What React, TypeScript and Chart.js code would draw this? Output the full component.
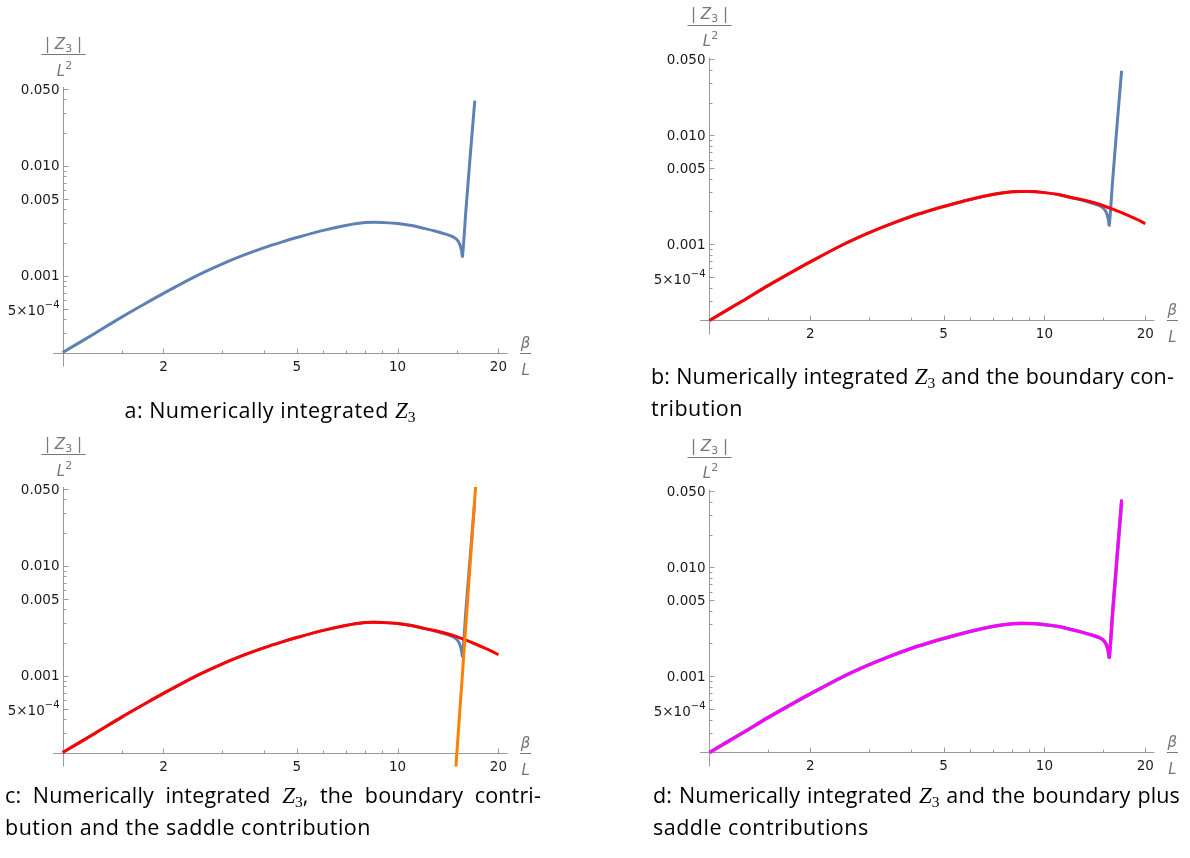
import React, { useEffect, useRef } from "react";
import { Chart, registerables } from "chart.js";

Chart.register(...registerables);

const PAGE_W = 1190;
const PAGE_H = 858;

// ---- data (beta/L, |Z3|/L^2) ----
const X_NUMERIC = [1.0, 1.25, 1.5, 1.75, 2.0, 2.5, 3.0, 3.5, 4.0, 4.5, 5.0, 6.0, 7.0, 8.0, 9.0, 10.0, 11.0, 12.0, 13.0, 14.0, 14.6, 15.0, 15.3, 15.5, 15.62, 16.0, 16.5, 17.0];
const Y_NUMERIC = [2.0e-4, 3.0e-4, 4.2e-4, 5.5e-4, 6.9e-4, 9.9e-4, 1.28e-3, 1.55e-3, 1.8e-3, 2.02e-3, 2.22e-3, 2.58e-3, 2.86e-3, 3.04e-3, 3.05e-3, 2.98e-3, 2.86e-3, 2.69e-3, 2.53e-3, 2.37e-3, 2.26e-3, 2.14e-3, 1.96e-3, 1.72e-3, 1.5e-3, 4.0e-3, 1.3e-2, 3.9e-2];

const X_BOUNDARY = [1.0, 1.25, 1.5, 1.75, 2.0, 2.5, 3.0, 3.5, 4.0, 4.5, 5.0, 6.0, 7.0, 8.0, 9.0, 10.0, 11.0, 12.0, 13.0, 14.0, 15.0, 16.0, 17.0, 18.0, 19.0, 20.0];
const Y_BOUNDARY = [2.0e-4, 3.0e-4, 4.2e-4, 5.5e-4, 6.9e-4, 9.9e-4, 1.28e-3, 1.55e-3, 1.8e-3, 2.02e-3, 2.22e-3, 2.58e-3, 2.86e-3, 3.04e-3, 3.05e-3, 2.98e-3, 2.86e-3, 2.69e-3, 2.56e-3, 2.42e-3, 2.26e-3, 2.1e-3, 1.95e-3, 1.81e-3, 1.68e-3, 1.55e-3];

const X_SADDLE = [14.85, 17.1];
const Y_SADDLE = [1.18e-4, 5.3e-2];

const X_SUM = [1.0, 1.25, 1.5, 1.75, 2.0, 2.5, 3.0, 3.5, 4.0, 4.5, 5.0, 6.0, 7.0, 8.0, 9.0, 10.0, 11.0, 12.0, 13.0, 14.0, 14.6, 15.0, 15.3, 15.5, 15.62, 16.0, 16.5, 17.0];
const Y_SUM = [2.0e-4, 3.0e-4, 4.2e-4, 5.5e-4, 6.9e-4, 9.9e-4, 1.28e-3, 1.55e-3, 1.8e-3, 2.02e-3, 2.22e-3, 2.58e-3, 2.86e-3, 3.04e-3, 3.05e-3, 2.98e-3, 2.86e-3, 2.69e-3, 2.53e-3, 2.37e-3, 2.26e-3, 2.14e-3, 1.96e-3, 1.72e-3, 1.5e-3, 4.0e-3, 1.3e-2, 4.2e-2];

// ---- axes / ticks ----
const X_RANGE = [0.937, 21.3];
const Y_RANGE = [1.49e-4, 0.052];
const X_ORIGIN = 1;
const Y_ORIGIN = 2e-4;
const X_MAJOR = [2, 5, 10, 20];
const X_MAJOR_LABELS = ["2", "5", "10", "20"];
const X_MINOR = [1.5, 3, 4, 6, 7, 8, 9, 15];
const Y_MAJOR = [0.0005, 0.001, 0.005, 0.01, 0.05];
const Y_MAJOR_LABELS = ["5×10^−4", "0.001", "0.005", "0.010", "0.050"];
const Y_MINOR = [3e-4, 4e-4, 6e-4, 7e-4, 8e-4, 9e-4, 0.002, 0.003, 0.004, 0.006, 0.007, 0.008, 0.009, 0.02, 0.03, 0.04];

const BLUE = "#5E81B5";
const RED = "#FF0000";
const ORANGE = "#FF8000";
const MAGENTA = "#FF00FF";
const AXIS_COLOR = "#9a9a9a";
const LABEL_COLOR = "#777777";
const TICK_TEXT = "#1a1a1a";
const TICK_FONT = '13.5px "DejaVu Sans", sans-serif';

type Series = { xs: number[]; ys: number[]; color: string; width: number; order: number };
type Panel = { key: string; left: number; top: number; right: number; bottom: number; series: Series[] };

const PANELS: Panel[] = [
  {
    key: "a", left: 53.2, top: 86.9, right: 507.6, bottom: 366.6,
    series: [{ xs: X_NUMERIC, ys: Y_NUMERIC, color: BLUE, width: 3, order: 0 }],
  },
  {
    key: "b", left: 700, top: 57.3, right: 1154.4, bottom: 334.4,
    series: [
      { xs: X_BOUNDARY, ys: Y_BOUNDARY, color: RED, width: 3, order: 0 },
      { xs: X_NUMERIC, ys: Y_NUMERIC, color: BLUE, width: 3, order: 1 },
    ],
  },
  {
    key: "c", left: 53.2, top: 486.9, right: 507.6, bottom: 766.6,
    series: [
      { xs: X_SADDLE, ys: Y_SADDLE, color: ORANGE, width: 3, order: 0 },
      { xs: X_BOUNDARY, ys: Y_BOUNDARY, color: RED, width: 3, order: 1 },
      { xs: X_NUMERIC, ys: Y_NUMERIC, color: BLUE, width: 3, order: 2 },
    ],
  },
  {
    key: "d", left: 700, top: 489.3, right: 1154.4, bottom: 766.4,
    series: [
      { xs: X_SUM, ys: Y_SUM, color: MAGENTA, width: 3, order: 0 },
      { xs: X_NUMERIC, ys: Y_NUMERIC, color: BLUE, width: 3.6, order: 1 },
    ],
  },
];

type Part = { text: string; font: string; dy?: number };

function drawParts(ctx: CanvasRenderingContext2D, parts: Part[], x: number, y: number, align: "left" | "center" | "right") {
  let total = 0;
  for (const p of parts) {
    ctx.font = p.font;
    total += ctx.measureText(p.text).width;
  }
  let cx = align === "left" ? x : align === "center" ? x - total / 2 : x - total;
  ctx.textAlign = "left";
  ctx.textBaseline = "alphabetic";
  for (const p of parts) {
    ctx.font = p.font;
    ctx.fillText(p.text, cx, y + (p.dy || 0));
    cx += ctx.measureText(p.text).width;
  }
}

const crisp = (v: number) => Math.round(v) + 0.5;

const axesPlugin = {
  id: "mmaAxes",
  beforeDatasetsDraw(chart: any) {
    const ctx: CanvasRenderingContext2D = chart.ctx;
    const xs = chart.scales.x;
    const ys = chart.scales.y;
    const a = chart.chartArea;
    const ox = crisp(xs.getPixelForValue(X_ORIGIN));
    const oy = crisp(ys.getPixelForValue(Y_ORIGIN));
    ctx.save();
    ctx.strokeStyle = AXIS_COLOR;
    ctx.lineWidth = 1;
    const seg = (x1: number, y1: number, x2: number, y2: number) => {
      ctx.beginPath();
      ctx.moveTo(x1, y1);
      ctx.lineTo(x2, y2);
      ctx.stroke();
    };
    seg(a.left, oy, a.right, oy);
    seg(ox, a.top, ox, a.bottom);
    X_MAJOR.forEach((v) => { const p = crisp(xs.getPixelForValue(v)); seg(p, oy, p, oy - 5); });
    X_MINOR.forEach((v) => { const p = crisp(xs.getPixelForValue(v)); seg(p, oy, p, oy - 3); });
    Y_MAJOR.forEach((v) => { const p = crisp(ys.getPixelForValue(v)); seg(ox, p, ox + 5, p); });
    Y_MINOR.forEach((v) => { const p = crisp(ys.getPixelForValue(v)); seg(ox, p, ox + 3, p); });

    // tick labels
    ctx.fillStyle = TICK_TEXT;
    X_MAJOR.forEach((v, i) => {
      const p = xs.getPixelForValue(v);
      drawParts(ctx, [{ text: X_MAJOR_LABELS[i], font: TICK_FONT }], p, oy + 17, "center");
    });
    Y_MAJOR.forEach((v, i) => {
      const p = ys.getPixelForValue(v);
      const lab = Y_MAJOR_LABELS[i];
      if (lab.includes("^")) {
        const [base, sup] = lab.split("^");
        drawParts(ctx, [
          { text: base, font: TICK_FONT },
          { text: sup, font: '10px "DejaVu Sans", sans-serif', dy: -7 },
        ], ox - 4, p + 6.5, "right");
      } else {
        drawParts(ctx, [{ text: lab, font: TICK_FONT }], ox - 4, p + 4.8, "right");
      }
    });

    // y axis label  | Z3 | / L^2
    ctx.fillStyle = LABEL_COLOR;
    const T = ys.getPixelForValue(0.05);
    const lf = '15px "DejaVu Sans", sans-serif';
    const lfi = 'italic 15px "DejaVu Sans", sans-serif';
    drawParts(ctx, [
      { text: "| ", font: lf },
      { text: "Z", font: lfi },
      { text: "3", font: '11px "DejaVu Sans", sans-serif', dy: 3 },
      { text: " |", font: lf },
    ], ox, T - 40, "center");
    ctx.strokeStyle = LABEL_COLOR;
    seg(ox - 22, crisp(T - 34.5), ox + 22, crisp(T - 34.5));
    drawParts(ctx, [
      { text: "L", font: lfi },
      { text: "2", font: '11px "DejaVu Sans", sans-serif', dy: -7 },
    ], ox + 1, T - 13, "center");

    // x axis label  beta / L
    const bx = a.right + 18;
    drawParts(ctx, [{ text: "β", font: lfi }], bx, oy - 6, "center");
    seg(bx - 5.5, oy, bx + 5.5, oy);
    drawParts(ctx, [{ text: "L", font: lfi }], bx, oy + 21, "center");
    ctx.restore();
  },
};

function PanelChart({ panel }: { panel: Panel }) {
  const ref = useRef<HTMLCanvasElement | null>(null);
  useEffect(() => {
    if (!ref.current) return;
    const chart = new Chart(ref.current, {
      type: "line",
      data: {
        datasets: panel.series.map((s) => ({
          data: s.xs.map((x, i) => ({ x, y: s.ys[i] })),
          borderColor: s.color,
          borderWidth: s.width,
          pointRadius: 0,
          fill: false,
          tension: 0.3,
          borderJoinStyle: "round" as const,
          order: s.order,
        })),
      },
      options: {
        responsive: false,
        animation: false,
        devicePixelRatio: 1,
        events: [],
        layout: {
          padding: {
            left: panel.left,
            top: panel.top,
            right: PAGE_W - panel.right,
            bottom: PAGE_H - panel.bottom,
          },
        },
        plugins: { legend: { display: false }, tooltip: { enabled: false }, title: { display: false } },
        scales: {
          x: { type: "logarithmic", min: X_RANGE[0], max: X_RANGE[1], display: false },
          y: { type: "logarithmic", min: Y_RANGE[0], max: Y_RANGE[1], display: false },
        },
      },
      plugins: [axesPlugin],
    } as any);
    return () => chart.destroy();
  }, [panel]);
  return (
    <canvas
      ref={ref}
      width={PAGE_W}
      height={PAGE_H}
      style={{ position: "absolute", left: 0, top: 0, width: PAGE_W, height: PAGE_H }}
    />
  );
}

const CAP_FONT = '"Open Sans", Lato, sans-serif';
const CAP_SIZE = 21.5;

function Z3() {
  return (
    <span style={{ fontFamily: '"Liberation Serif", "DejaVu Serif", serif', fontStyle: "italic", fontSize: 23, letterSpacing: 0 }}>
      Z
      <span style={{ fontStyle: "normal", fontSize: 15.5, position: "relative", top: 4 }}>3</span>
    </span>
  );
}

function CapLine({ left, baseline, width, justify, center, children }: any) {
  return (
    <div
      style={{
        position: "absolute",
        left,
        top: baseline - 22,
        width,
        fontFamily: CAP_FONT,
        fontSize: CAP_SIZE,
        letterSpacing: justify ? "0.15px" : "0.5px",
        wordSpacing: justify ? "-1px" : "0px",
        lineHeight: "29px",
        color: "#000",
        whiteSpace: "nowrap",
        textAlign: justify ? "justify" : center ? "center" : "left",
        textAlignLast: justify ? "justify" : center ? "center" : "left",
      } as any}
    >
      {children}
    </div>
  );
}

export default function App() {
  return (
    <div style={{ position: "absolute", left: 0, top: 0, width: PAGE_W, height: PAGE_H, background: "#fff", overflow: "hidden" }}>
      {PANELS.map((p) => (
        <PanelChart key={p.key} panel={p} />
      ))}
      <CapLine left={5} baseline={417} width={530} center>
        a: Numerically integrated <Z3 />
      </CapLine>
      <CapLine left={651} baseline={383} width={523} justify>
        b: Numerically integrated <Z3 /> and the boundary con-
      </CapLine>
      <CapLine left={651} baseline={415}>tribution</CapLine>
      <CapLine left={5} baseline={802} width={536} justify>
        c: Numerically integrated <Z3 />, the boundary contri-
      </CapLine>
      <CapLine left={5} baseline={834}>bution and the saddle contribution</CapLine>
      <CapLine left={653} baseline={802} width={527} justify>
        d: Numerically integrated <Z3 /> and the boundary plus
      </CapLine>
      <CapLine left={653} baseline={834}>saddle contributions</CapLine>
    </div>
  );
}
